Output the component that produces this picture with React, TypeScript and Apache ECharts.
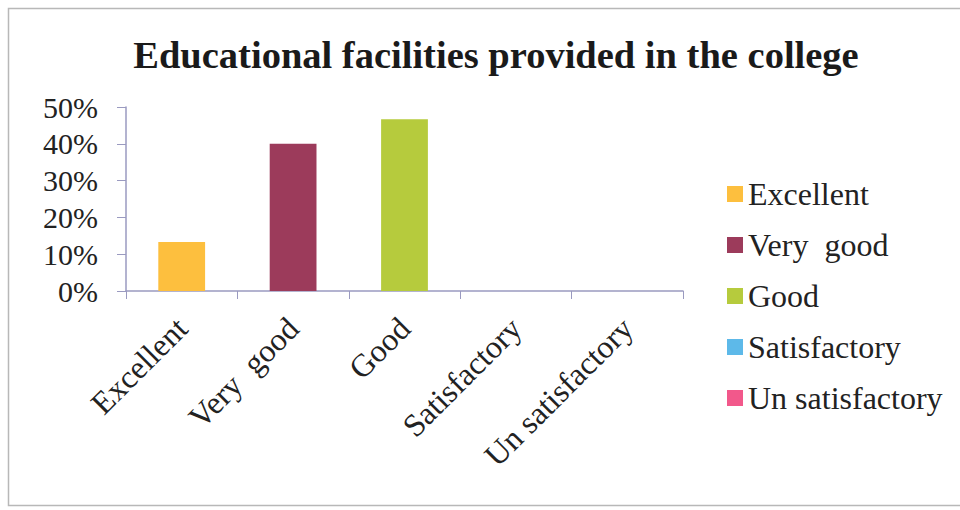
import React, { useEffect, useRef } from "react";
import * as echarts from "echarts";

const categories = ["Excellent", "Very  good", "Good", "Satisfactory", "Un satisfactory"];
const values = [13.3, 40, 46.7, 0, 0];
const colors = ["#FDBF3E", "#9C3B5B", "#B6CB3D", "#5DB9E9", "#F2588B"];
const yTicks = [0, 10, 20, 30, 40, 50];

export default function App() {
  const ref = useRef<HTMLDivElement>(null);
  useEffect(() => {
    document.body.style.margin = "0";
    const chart = echarts.init(ref.current!, undefined, { renderer: "svg" });
    const font = "Liberation Serif";
    chart.setOption({
      animation: false,
      backgroundColor: "#ffffff",
      title: {
        text: "Educational facilities provided in the college",
        left: 491,
        textAlign: "center",
        top: 30,
        textStyle: { fontFamily: font, fontSize: 38.5, fontWeight: "bold", color: "#1a1a1a" },
      },
      legend: {
        orient: "vertical",
        left: 722,
        top: 173,
        itemWidth: 16,
        itemHeight: 16,
        itemGap: 19,
        icon: "rect",
        textStyle: { fontFamily: font, fontSize: 32, color: "#222" },
        data: categories,
      },
      grid: { left: 126, right: 277, top: 107, bottom: 219, containLabel: false },
      xAxis: {
        type: "category",
        data: categories,
        axisLine: { lineStyle: { color: "#9a9ac0", width: 1.5 } },
        axisTick: { show: true, alignWithLabel: false, length: 8, lineStyle: { color: "#9a9ac0" } },
        axisLabel: {
          rotate: 45,
          interval: 0,
          margin: 32,
          fontFamily: font,
          fontSize: 32,
          color: "#222",
        },
      },
      yAxis: {
        type: "value",
        min: 0,
        max: 50,
        interval: 10,
        splitLine: { show: false },
        axisLine: { show: true, lineStyle: { color: "#9a9ac0", width: 1.5 } },
        axisTick: { show: true, length: 9, lineStyle: { color: "#9a9ac0" } },
        axisLabel: {
          margin: 28,
          fontFamily: font,
          fontSize: 30,
          color: "#222",
          formatter: (v: number) => (yTicks.includes(v) ? v + "%" : ""),
        },
      },
      series: categories.map((name, i) => ({
        name,
        type: "bar",
        stack: "all",
        barWidth: "42%",
        itemStyle: { color: colors[i] },
        data: categories.map((_, j) => (j === i ? values[i] : null)),
      })),
      graphic: [
        {
          type: "rect",
          shape: { x: 8.5, y: 8.5, width: 1000, height: 497 },
          style: { fill: "none", stroke: "#b8b8b8", lineWidth: 1.5 },
          silent: true,
        },
      ],
    });
    return () => chart.dispose();
  }, []);
  return <div ref={ref} style={{ width: 960, height: 510 }} />;
}
